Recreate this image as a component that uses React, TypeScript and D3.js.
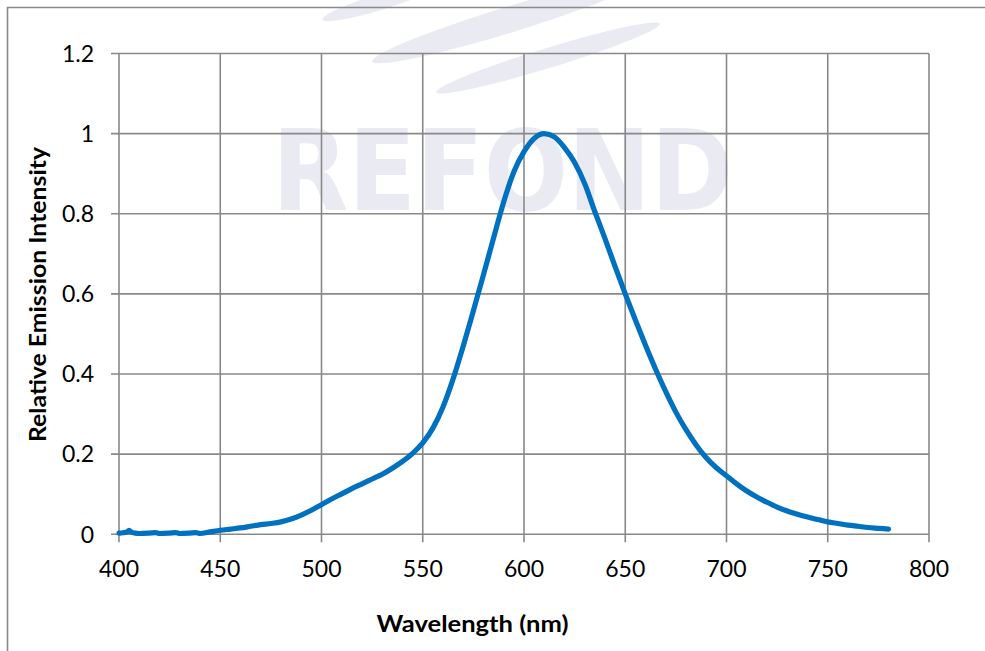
import React from "react";
import * as d3 from "d3";

const wavelengths = [
  400, 402, 404, 405, 406, 408, 410, 415, 418, 420, 425, 428, 430, 435, 438, 440, 445,
  450, 455, 460, 465, 470, 475, 480, 485, 490, 495, 500, 505, 510, 515, 520, 525, 530,
  535, 540, 545, 550, 555, 560, 565, 570, 575, 580, 585, 590, 595, 600, 605, 610, 615,
  620, 625, 630, 635, 640, 645, 650, 655, 660, 665, 670, 675, 680, 685, 690, 695, 700,
  705, 710, 715, 720, 725, 730, 735, 740, 745, 750, 755, 760, 765, 770, 775, 780,
];
const intensity = [
  0.003, 0.004, 0.006, 0.010, 0.006, 0.003, 0.002, 0.003, 0.004, 0.002, 0.003, 0.004, 0.002, 0.003, 0.004, 0.002, 0.006,
  0.010, 0.013, 0.016, 0.020, 0.024, 0.027, 0.031, 0.038, 0.048, 0.060, 0.074, 0.088, 0.101, 0.114, 0.126, 0.138, 0.150,
  0.165, 0.182, 0.202, 0.228, 0.265, 0.318, 0.388, 0.470, 0.558, 0.648, 0.740, 0.830, 0.905, 0.955, 0.988, 1.0, 0.992,
  0.965, 0.928, 0.875, 0.805, 0.738, 0.668, 0.600, 0.535, 0.472, 0.412, 0.356, 0.305, 0.261, 0.223, 0.191, 0.166, 0.146,
  0.126, 0.108, 0.093, 0.080, 0.068, 0.058, 0.050, 0.043, 0.037, 0.031, 0.027, 0.023, 0.020, 0.017, 0.015, 0.013,
];
const xTicks = [400, 450, 500, 550, 600, 650, 700, 750, 800];
const yTicks = [0, 0.2, 0.4, 0.6, 0.8, 1.0, 1.2];
const yTickLabels = ["0", "0.2", "0.4", "0.6", "0.8", "1", "1.2"];

const W = 985;
const H = 651;
const left = 119;
const right = 929;
const top = 53.5;
const bottom = 534.3;

export default function App() {
  const x = d3.scaleLinear().domain([400, 800]).range([left, right]);
  const y = d3.scaleLinear().domain([0, 1.2]).range([bottom, top]);
  const pts = wavelengths.map((w, i) => [w, intensity[i]] as [number, number]);
  const line = d3
    .line<[number, number]>()
    .x((d) => x(d[0]))
    .y((d) => y(d[1]))
    .curve(d3.curveMonotoneX);

  const grid = "#898989";
  const wm = "#eaeaf3";

  return (
    <svg
      width={W}
      height={H}
      style={{ position: "absolute", left: 0, top: 0, background: "#fff" }}
      fontFamily="Lato, 'Open Sans', sans-serif"
    >
      <rect x={0} y={0} width={W} height={H} fill="#fff" />
      {/* watermark swooshes */}
      <g fill={wm}>
        <ellipse cx={380} cy={2} rx={60} ry={8} transform="rotate(-17 380 2)" />
        <ellipse cx={508} cy={20} rx={142} ry={13} transform="rotate(-17 508 20)" />
        <ellipse cx={548} cy={58} rx={117} ry={10} transform="rotate(-17 548 58)" />
      </g>
      {/* watermark text */}
      <text
        x={272}
        y={210}
        fontFamily="'DejaVu Sans', sans-serif"
        fontWeight="bold"
        fontSize={112}
        fill={wm}
        textLength={461}
        lengthAdjust="spacingAndGlyphs"
      >
        REFOND
      </text>

      {/* outer frame */}
      <path d={`M7.5,${H + 2} V7.5 H${W + 2}`} fill="none" stroke={grid} strokeWidth={1.6} />

      {/* grid */}
      <g stroke={grid} strokeWidth={1.6} fill="none">
        {yTicks.map((t) => (
          <line key={"gy" + t} x1={left - 8} x2={right} y1={y(t)} y2={y(t)} />
        ))}
        {xTicks.map((t) => (
          <line key={"gx" + t} x1={x(t)} x2={x(t)} y1={top} y2={bottom + 8} />
        ))}
      </g>

      {/* y tick labels */}
      <g fontSize={23} fill="#000" textAnchor="end">
        {yTicks.map((t, i) => (
          <text key={"ty" + t} x={94} y={y(t)} dy="0.36em">
            {yTickLabels[i]}
          </text>
        ))}
      </g>
      {/* x tick labels */}
      <g fontSize={23} fill="#000" textAnchor="middle">
        {xTicks.map((t) => (
          <text key={"tx" + t} x={x(t)} y={577}>
            {t}
          </text>
        ))}
      </g>

      {/* data line */}
      <path
        d={line(pts) || ""}
        fill="none"
        stroke="#0070C0"
        strokeWidth={5.2}
        strokeLinecap="round"
        strokeLinejoin="round"
      />

      {/* axis titles */}
      <text
        x={376.5}
        y={632}
        fontSize={23}
        fontWeight="bold"
        fill="#000"
        textLength={192}
        lengthAdjust="spacingAndGlyphs"
      >
        Wavelength (nm)
      </text>
      <text
        transform={`translate(46,442) rotate(-90)`}
        fontSize={22.5}
        fontWeight="bold"
        fill="#000"
        textLength={295}
        lengthAdjust="spacingAndGlyphs"
      >
        Relative Emission Intensity
      </text>
    </svg>
  );
}
